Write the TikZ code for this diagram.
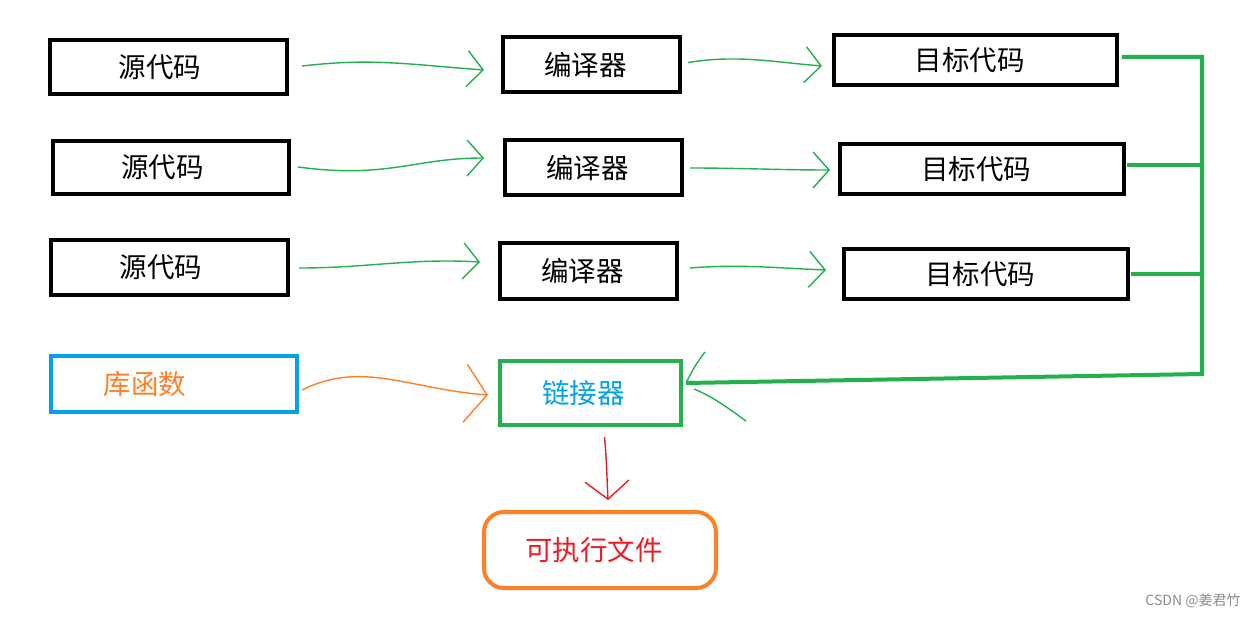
\documentclass[tikz,border=0pt]{standalone}
\usepackage{fontspec}
\setmainfont{Noto Sans CJK SC}
\usetikzlibrary{arrows.meta,calc}
\definecolor{pgreen}{RGB}{34,177,76}
\definecolor{pblue}{RGB}{0,162,232}
\definecolor{porange}{RGB}{255,127,39}
\definecolor{pred}{RGB}{237,28,36}
\begin{document}
\begin{tikzpicture}[x=1pt,y=-1pt,
  box/.style={draw=black,line width=4pt,rectangle,inner sep=0pt,font=\fontsize{27.5}{32}\selectfont,
    execute at begin node={\kern-12pt}},
  srcbox/.style={box,execute at begin node={\kern-5pt}},
  garrow/.style={draw=pgreen,line width=1.4pt,-{Straight Barb[length=16pt,width=36pt,line width=1.4pt]}},
  oarrow/.style={draw=porange,line width=1.4pt,-{Straight Barb[length=22pt,width=58pt,line width=1.4pt]}},
  rarrow/.style={draw=pred,line width=1.4pt,-{Straight Barb[length=18pt,width=44pt,line width=1.4pt]}},
  bus/.style={draw=pgreen,line width=4pt},
  thing/.style={draw=pgreen,line width=1.4pt}]
\useasboundingbox (0,0) rectangle (1258,618);
\fill[white] (0,0) rectangle (1258,618);
% row 1
\node[srcbox,minimum width=237,minimum height=54] (s1) at (168.5,67) {源代码};
\node[box,minimum width=177,minimum height=55] (c1) at (591.5,64.5) {编译器};
\node[box,minimum width=283,minimum height=50] (t1) at (975.5,60) {目标代码};
% row 2
\node[srcbox,minimum width=236,minimum height=53] (s2) at (171,167.5) {源代码};
\node[box,minimum width=177,minimum height=55] (c2) at (593.5,167.5) {编译器};
\node[box,minimum width=284,minimum height=50] (t2) at (982,169) {目标代码};
% row 3
\node[srcbox,minimum width=237,minimum height=55] (s3) at (169.5,267.5) {源代码};
\node[box,minimum width=177,minimum height=56] (c3) at (588.5,271) {编译器};
\node[box,minimum width=284,minimum height=50] (t3) at (986,274) {目标代码};
% library, linker, executable
\node[box,draw=pblue,minimum width=246,minimum height=56,
  label={[font=\fontsize{27.5}{32}\selectfont,text=porange,xshift=-29pt]center:库函数}] (lib) at (174,384) {};
\node[box,draw=pgreen,minimum width=181,minimum height=64,
  label={[font=\fontsize{27.5}{32}\selectfont,text=pblue,xshift=-7pt]center:链接器}] (lk) at (590.5,393) {};
\node[box,draw=porange,rounded corners=20pt,minimum width=232,minimum height=76,text=pred] (ex) at (600,550) {可执行文件};
% green arrows
\draw[garrow] ($(s1.east)+(13,-1)$) .. controls +(70,-8) and +(-80,-6) .. ($(c1.west)+(-17,5.5)$);
\draw[garrow] ($(c1.east)+(6,-2)$) .. controls +(50,-8) and +(-50,-4) .. ($(t1.west)+(-10,6)$);
\draw[garrow] ($(s2.east)+(7,-0.5)$) .. controls +(90,12) and +(-70,0) .. ($(c2.west)+(-19,-9.5)$);
\draw[garrow] ($(c2.east)+(6,0.5)$) .. controls +(50,0) and +(-50,0) .. ($(t2.west)+(-8,1)$);
\draw[garrow] ($(s3.east)+(9,0.5)$) .. controls +(70,0) and +(-70,-4) .. ($(c3.west)+(-18,-9)$);
\draw[garrow] ($(c3.east)+(11,-3)$) .. controls +(50,-4) and +(-50,-2) .. ($(t3.west)+(-16,-4)$);
% library arrow
\draw[oarrow] ($(lib.east)+(3,6)$) .. controls +(60,-30) and +(-80,-6) .. ($(lk.west)+(-10,2)$);
% bus to linker
\coordinate (b1) at (1202,57);
\coordinate (b2) at (1202,374);
\coordinate (lktip) at ($(lk.east)+(3,-10)$);
\draw[bus] ($(t1.east)+(3,-3)$) -- (b1) -- (b2) -- (lktip);
\draw[bus] ($(t2.east)+(1,-4)$) -- ($(t2.east -| b1)+(0,-4)$);
\draw[bus] ($(t3.east)+(1,0)$) -- (t3.east -| b1);
\draw[thing] (lktip) .. controls +(6,-12) and +(-8,10) .. ++(19,-31);
\draw[thing] ($(lktip)+(8,6)$) .. controls +(20,8) and +(-14,-10) .. ++(52,32);
% red arrow
\draw[rarrow] ($(lk.south)+(14,10)$) .. controls +(2,20) and +(-1,-20) .. ($(ex.north)+(8,-10)$);
% watermark
\node[text=black!45,font=\fontsize{14}{16}\selectfont] (wm) at (1193,601) {CSDN @姜君竹};
\end{tikzpicture}
\end{document}
